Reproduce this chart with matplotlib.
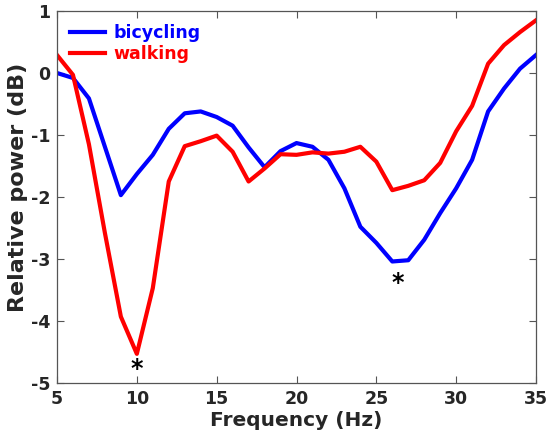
import matplotlib
matplotlib.use("Agg")
import matplotlib.pyplot as plt

freq = list(range(5, 36))
bicycling = [0.0, -0.08, -0.41, -1.19, -1.97, -1.63, -1.32, -0.9, -0.65, -0.62, -0.71, -0.85,
             -1.2, -1.52, -1.26, -1.13, -1.19, -1.4, -1.86, -2.48, -2.74, -3.04, -3.02, -2.69,
             -2.26, -1.86, -1.4, -0.62, -0.25, 0.07, 0.29]
walking = [0.29, -0.03, -1.15, -2.58, -3.93, -4.53, -3.47, -1.75, -1.18, -1.1, -1.01, -1.27,
           -1.75, -1.54, -1.31, -1.32, -1.28, -1.3, -1.27, -1.19, -1.43, -1.89, -1.82, -1.73,
           -1.45, -0.94, -0.53, 0.15, 0.45, 0.66, 0.85]
star_x = [10.0, 26.35]
star_y = [-4.78, -3.38]
xticks = [5, 10, 15, 20, 25, 30, 35]
yticks = [-5, -4, -3, -2, -1, 0, 1]

plt.rcParams['font.family'] = 'DejaVu Sans'
plt.rcParams['font.weight'] = 'bold'
plt.rcParams['axes.unicode_minus'] = False
dark = '#262626'

fig = plt.figure(figsize=(5.51, 4.42), dpi=100)
ax = fig.add_axes([57/551, 1 - 383/442, (536-57)/551, (383-11)/442])

ax.plot(freq, bicycling, color='#0000ff', lw=3, label='bicycling')
ax.plot(freq, walking, color='#ff0000', lw=3, label='walking')
for sx, sy in zip(star_x, star_y):
    ax.text(sx, sy, '*', fontsize=17, fontweight='bold', color='black', ha='center', va='center')

ax.set_xlim(5, 35)
ax.set_ylim(-5, 1)
ax.set_xticks(xticks)
ax.set_yticks(yticks)
ax.tick_params(direction='in', length=5, width=0.8, top=True, right=True, colors='#555555',
               labelcolor=dark, labelsize=12.5, pad=5)
for lab in ax.get_xticklabels() + ax.get_yticklabels():
    lab.set_fontweight('bold')
for s in ax.spines.values():
    s.set_color('#555555')
    s.set_linewidth(0.9)

ax.set_xlabel('Frequency (Hz)', fontsize=14.5, fontweight='bold', color=dark, labelpad=2)
ax.set_ylabel('Relative power (dB)', fontsize=16, fontweight='bold', color=dark)
ax.yaxis.set_label_coords(-0.06, 0.525)

leg = ax.legend(loc='upper left', frameon=False, fontsize=12.5, handlelength=2.0,
                borderaxespad=0.35, labelspacing=0.2, handletextpad=0.5)
for txt, line in zip(leg.get_texts(), leg.get_lines()):
    txt.set_color(line.get_color())
    txt.set_fontweight('bold')

fig.savefig('out.png', dpi=100)
